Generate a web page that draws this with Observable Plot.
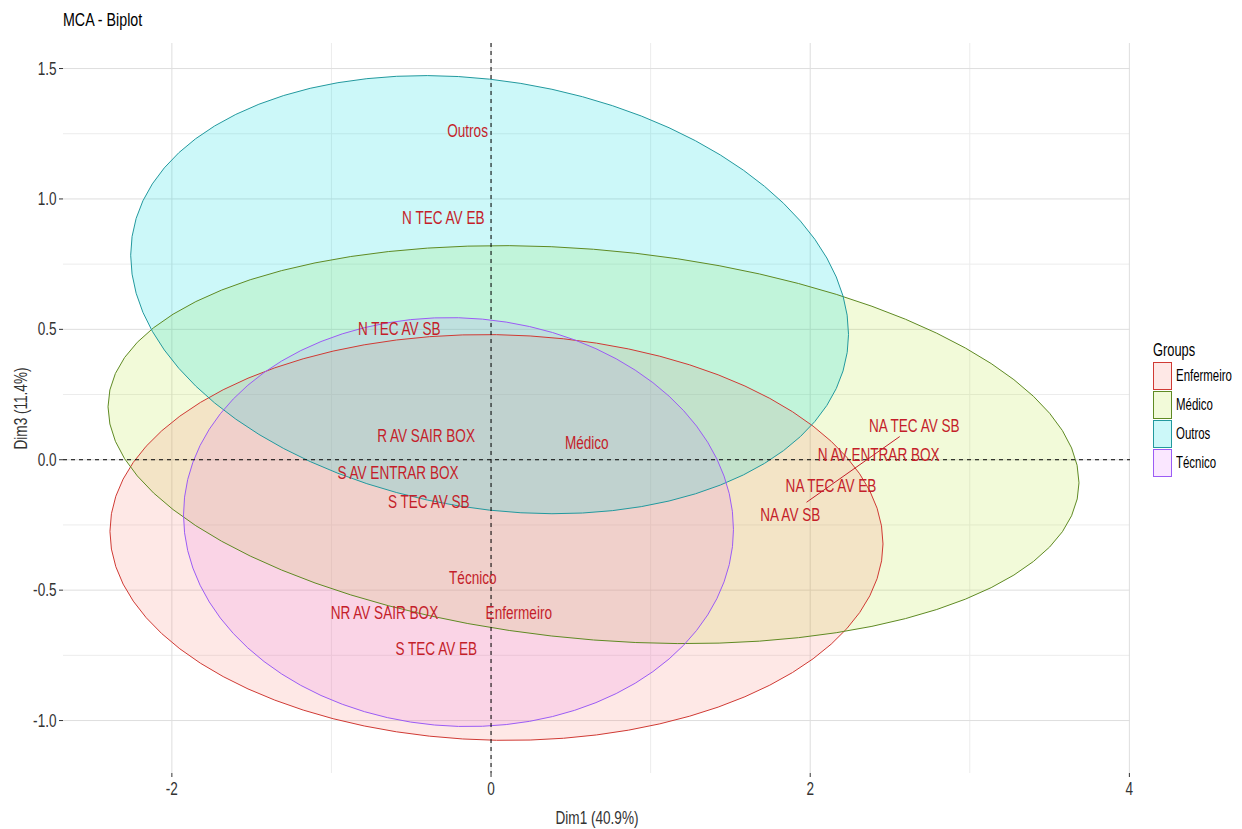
<!DOCTYPE html>
<html>
<head>
<meta charset="utf-8">
<script src="https://cdn.jsdelivr.net/npm/d3@7"></script>
<script src="https://cdn.jsdelivr.net/npm/@observablehq/plot@0.6"></script>
<style>
  body { margin: 0; background: #fff; font-family: "Liberation Sans", Arial, sans-serif; }
  #wrap { position: relative; width: 1242px; height: 829px; overflow: hidden; background: #fff; }
  #title { position: relative; height: 30px; }
  #title span { position: absolute; left: 63px; top: 8px; font-size: 19px; line-height: 23px; color: #000;
                white-space: nowrap; transform: scaleX(0.75); transform-origin: 0 0; }
  #legend { position: absolute; left: 1153px; top: 340px; }
  #legend .lt { font-size: 18px; line-height: 20px; color: #000; white-space: nowrap;
                transform: scaleX(0.715); transform-origin: 0 0; height: 22px; }
  #legend .row { position: relative; height: 29px; width: 90px; }
  #legend .key { position: absolute; left: 0; top: 0; width: 17px; height: 26px; border: 1px solid; }
  #legend .lab { position: absolute; left: 23px; top: 0; font-size: 16px; line-height: 28px; color: #000;
                 white-space: nowrap; transform: scaleX(0.715); transform-origin: 0 50%; }
</style>
</head>
<body>
<div id="wrap">
  <div id="title"><span>MCA - Biplot</span></div>
  <div id="chart"></div>
  <div id="legend"></div>
</div>
<script>
// ---- groups & ellipse parameters ----
const groups      = ["Enfermeiro", "Médico", "Outros", "Técnico"];
const strokeCols  = ["#d03a34", "#5f8a23", "#22999e", "#9b5cf5"];
const fillCols    = ["#F8766D", "#B4E01E", "#00DEE2", "#E070FF"];
const fillAlphas  = [0.17, 0.17, 0.2, 0.17];
const fillOrder   = [1, 3, 0, 2];   // painting order of the translucent fills
const ellCx       = [0.034, 0.642, -0.009, -0.204];
const ellCy       = [-0.298, 0.058, 0.633, -0.239];
const ellSx       = [2.422, 3.042, 2.249, 1.723];   // half-width (x units)
const ellSy       = [0.778, 0.763, 0.840, 0.784];   // half-height (y units)
const ellR        = [-0.03, -0.19, -0.18, -0.035];  // tilt (correlation)

// ---- category labels ----
const labels = ["Outros", "N TEC AV EB", "N TEC AV SB", "R AV SAIR BOX", "Médico",
                "S AV ENTRAR BOX", "S TEC AV SB", "Técnico", "NR AV SAIR BOX", "Enfermeiro",
                "S TEC AV EB", "NA TEC AV SB", "N AV ENTRAR BOX", "NA TEC AV EB", "NA AV SB"];
const labelX = [-0.147, -0.299, -0.575, -0.407, 0.600,
                -0.583, -0.390, -0.114, -0.668, 0.174,
                -0.343, 2.652, 2.429, 2.130, 1.875];
const labelY = [1.261, 0.926, 0.500, 0.090, 0.064,
                -0.051, -0.163, -0.452, -0.588, -0.588,
                -0.725, 0.128, 0.020, -0.102, -0.210];

// ---- repel segment ----
const segX = [1.977, 2.561];
const segY = [-0.163, 0.089];

// ---- axes ----
const xDomain = [-2.679, 4.007];
const yDomain = [-1.203, 1.596];
const xMajor = [-2, 0, 2, 4];
const xMinor = [-1, 1, 3];
const yMajor = [-1, -0.5, 0, 0.5, 1, 1.5];
const yMinor = [-0.75, -0.25, 0.25, 0.75, 1.25];
const xTitle = "Dim1 (40.9%)";
const yTitle = "Dim3 (11.4%)";

const labelColor = "#c41e2a";
const textColor = "#333333";

// ellipse outlines from the read parameters
const steps = 72;
const ellipses = groups.map((g, i) => d3.range(steps).map(k => {
  const t = 2 * Math.PI * k / steps;
  return {
    group: g,
    x: ellCx[i] + ellSx[i] * Math.cos(t),
    y: ellCy[i] + ellSy[i] * (ellR[i] * Math.cos(t) + Math.sqrt(1 - ellR[i] * ellR[i]) * Math.sin(t))
  };
}));

const labelData = labels.map((t, i) => ({text: t, x: labelX[i], y: labelY[i]}));
const segData = [{x1: segX[0], y1: segY[0], x2: segX[1], y2: segY[1]}];

const chart = Plot.plot({
  width: 1242,
  height: 799,
  marginTop: 13,
  marginBottom: 56,
  marginLeft: 63,
  marginRight: 112,
  style: {fontFamily: "'Liberation Sans', Arial, sans-serif", fontSize: "19px", background: "white", color: textColor},
  x: {domain: xDomain},
  y: {domain: yDomain},
  marks: [
    Plot.ruleX(xMinor, {stroke: "#ececec", strokeWidth: 1}),
    Plot.ruleY(yMinor, {stroke: "#ececec", strokeWidth: 1}),
    Plot.ruleX(xMajor, {stroke: "#dedede", strokeWidth: 1}),
    Plot.ruleY(yMajor, {stroke: "#dedede", strokeWidth: 1}),
    ...fillOrder.map(i => Plot.line(ellipses[i], {
      x: "x", y: "y", curve: "linear-closed",
      fill: fillCols[i], fillOpacity: fillAlphas[i], stroke: "none"
    })),
    ...groups.map((g, i) => Plot.line(ellipses[i], {
      x: "x", y: "y", curve: "linear-closed",
      stroke: strokeCols[i], strokeWidth: 1
    })),
    Plot.ruleX([0], {stroke: "#000", strokeDasharray: "4,4", strokeWidth: 1}),
    Plot.ruleY([0], {stroke: "#000", strokeDasharray: "4,4", strokeWidth: 1}),
    Plot.link(segData, {x1: "x1", y1: "y1", x2: "x2", y2: "y2", stroke: labelColor, strokeWidth: 1}),
    Plot.text(labelData, {x: "x", y: "y", text: "text", fill: labelColor, fontSize: 19,
                          textAnchor: "middle", lineAnchor: "middle"}),
    Plot.axisX(xMajor, {tickSize: 4, tickPadding: 4, fontSize: 19, color: textColor,
                        tickFormat: d => String(d),
                        label: xTitle, labelAnchor: "center", labelArrow: "none", labelOffset: 50}),
    Plot.axisY(yMajor, {tickSize: 4, tickPadding: 3, fontSize: 19, color: textColor,
                        tickFormat: d => d.toFixed(1),
                        label: yTitle, labelAnchor: "center", labelArrow: "none", labelOffset: 50})
  ]
});

// condense all text horizontally, as in the reference
const S = 0.715;
chart.querySelectorAll("text").forEach(t => {
  const tr = t.getAttribute("transform");
  if (tr) t.setAttribute("transform", tr + ` scale(${S},1)`);
  else {
    const x = +t.getAttribute("x") || 0, y = +t.getAttribute("y") || 0;
    t.setAttribute("transform", `translate(${x},${y}) scale(${S},1) translate(${-x},${-y})`);
  }
});
document.getElementById("chart").appendChild(chart);

// legend
const legend = document.getElementById("legend");
const rgba = (c, a) => { const o = d3.color(c); o.opacity = a; return o.formatRgb(); };
legend.innerHTML = `<div class="lt">Groups</div>` + groups.map((g, i) =>
  `<div class="row"><span class="key" style="background:${rgba(fillCols[i], fillAlphas[i])};border-color:${strokeCols[i]}"></span><span class="lab">${g}</span></div>`
).join("");
</script>
</body>
</html>
